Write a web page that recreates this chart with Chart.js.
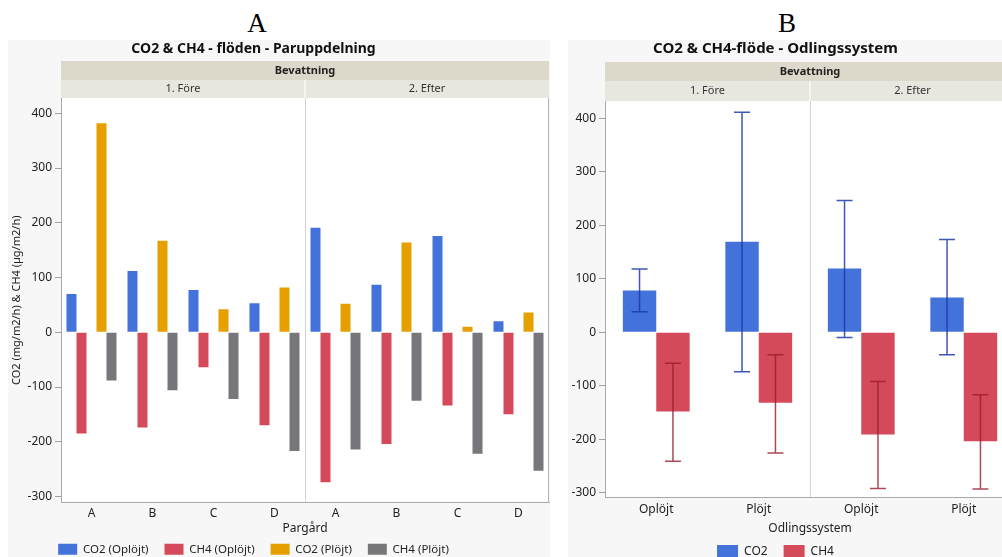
<!DOCTYPE html>
<html>
<head>
<meta charset="utf-8">
<script src="https://cdn.jsdelivr.net/npm/chart.js@4/dist/chart.umd.min.js"></script>
<style>
html, body { margin: 0; padding: 0; background: #fff; }
body { width: 1002px; height: 557px; position: relative; overflow: hidden; }
.panel { position: absolute; background: #f7f7f7; }
.letter { position: absolute; width: 40px; text-align: center; font-family: "Liberation Serif", serif; font-size: 27px; line-height: 27px; color: #000; }
canvas { position: absolute; }
</style>
</head>
<body>
<div class="panel" style="left:8px;top:40px;width:542px;height:517px"></div>
<div class="panel" style="left:568px;top:40px;width:434px;height:517px"></div>
<div class="letter" style="left:237px;top:10px">A</div>
<div class="letter" style="left:767px;top:10px">B</div>
<canvas id="chartA" width="592" height="525" style="left:-42px;top:40px"></canvas>
<canvas id="chartB" width="480" height="528" style="left:536px;top:40px"></canvas>
<script>
// --- data ---
const bevattning = ['1. Före', '2. Efter'];
const pargard = ['A', 'B', 'C', 'D'];
const system = ['Oplöjt', 'Plöjt'];

// A: Före A-D, then Efter A-D
const co2Oplojt = [70, 112, 77, 53, 191, 87, 176, 20];
const ch4Oplojt = [-185, -174, -64, -170, -274, -204, -134, -150];
const co2Plojt = [382, 167, 42, 82, 52, 164, 10, 36];
const ch4Plojt = [-88, -106, -122, -217, -214, -125, -222, -253];

// B: Före Oplöjt/Plöjt, then Efter Oplöjt/Plöjt
const co2Mean = [78, 169, 119, 65];
const co2Low = [38, -74, -10, -42];
const co2High = [118, 411, 246, 173];
const ch4Mean = [-148, -132, -191, -204];
const ch4Low = [-241, -226, -292, -293];
const ch4High = [-58, -42, -92, -117];

const BLUE = '#4472db';
const RED = '#d54a5b';
const ORANGE = '#e5a000';
const GRAY = '#77777b';

Chart.defaults.font.family = '"Noto Sans", sans-serif';
Chart.defaults.color = '#222';

// white plot area, facet header bands, frame
const facetPlugin = {
  id: 'facets',
  beforeDraw(chart, args, opts) {
    const ctx = chart.ctx;
    const a = chart.chartArea;
    const n = opts.groups.length;
    const w = a.width / n;
    ctx.save();
    ctx.fillStyle = '#fff';
    ctx.fillRect(a.left, a.top, a.width, a.height);

    ctx.fillStyle = '#dcd9ca';
    ctx.fillRect(a.left, a.top - opts.h1 - opts.h2, a.width, opts.h1);
    ctx.fillStyle = '#e8e7df';
    ctx.fillRect(a.left, a.top - opts.h2, a.width, opts.h2);
    ctx.fillStyle = '#f5f4ef';
    for (let i = 1; i < n; i++) {
      ctx.fillRect(a.left + w * i - 1, a.top - opts.h2, 2, opts.h2);
    }

    ctx.textAlign = 'center';
    ctx.textBaseline = 'middle';
    ctx.fillStyle = '#222';
    ctx.font = 'bold 11px "Noto Sans"';
    ctx.fillText(opts.title, (a.left + a.right) / 2, a.top - opts.h2 - opts.h1 / 2);
    ctx.fillStyle = '#333';
    ctx.font = '11px "Noto Sans"';
    opts.groups.forEach((g, i) => {
      ctx.fillText(g, a.left + w * (i + 0.5), a.top - opts.h2 / 2);
    });
    ctx.restore();
  },
  afterDraw(chart) {
    const ctx = chart.ctx;
    const a = chart.chartArea;
    ctx.save();
    ctx.strokeStyle = '#b4b4b4';
    ctx.lineWidth = 1;
    ctx.beginPath();
    ctx.moveTo(a.right - 0.5, a.top);
    ctx.lineTo(a.right - 0.5, a.bottom);
    ctx.stroke();
    ctx.restore();
  }
};

// error bars for panel B
const errorBars = {
  id: 'errorBars',
  afterDatasetsDraw(chart) {
    const ctx = chart.ctx;
    const y = chart.scales.y;
    chart.data.datasets.forEach((ds, di) => {
      if (!ds.errLow) return;
      const meta = chart.getDatasetMeta(di);
      ctx.save();
      ctx.strokeStyle = ds.errColor;
      ctx.lineWidth = 1.5;
      meta.data.forEach((bar, i) => {
        const lo = y.getPixelForValue(ds.errLow[i]);
        const hi = y.getPixelForValue(ds.errHigh[i]);
        ctx.beginPath();
        ctx.moveTo(bar.x, lo);
        ctx.lineTo(bar.x, hi);
        ctx.moveTo(bar.x - 8, lo);
        ctx.lineTo(bar.x + 8, lo);
        ctx.moveTo(bar.x - 8, hi);
        ctx.lineTo(bar.x + 8, hi);
        ctx.stroke();
      });
      ctx.restore();
    });
  }
};

const tickFont = { size: 12 };

// ---------- A ----------
const labelsA = bevattning.flatMap(() => pargard);

new Chart(document.getElementById('chartA'), {
  type: 'bar',
  data: {
    labels: labelsA,
    datasets: [
      { label: 'CO2 (Oplöjt)', data: co2Oplojt, backgroundColor: BLUE },
      { label: 'CH4 (Oplöjt)', data: ch4Oplojt, backgroundColor: RED },
      { label: '', data: labelsA.map(() => null) }, // empty slot = gap between pairs
      { label: 'CO2 (Plöjt)', data: co2Plojt, backgroundColor: ORANGE },
      { label: 'CH4 (Plöjt)', data: ch4Plojt, backgroundColor: GRAY }
    ]
  },
  options: {
    responsive: false,
    animation: false,
    layout: { padding: { left: 0, right: 1, top: 0, bottom: 0 } },
    datasets: { bar: { categoryPercentage: 0.82, barPercentage: 1 } },
    plugins: {
      title: {
        display: true,
        text: 'CO2 & CH4 - flöden - Paruppdelning',
        color: '#111',
        font: { size: 14, weight: 'bold' },
        padding: { top: 1, bottom: 40.2 }
      },
      legend: {
        position: 'bottom',
        labels: {
          filter: item => item.text !== '',
          boxWidth: 19,
          boxHeight: 11,
          padding: 16,
          font: { size: 11.5 },
          color: '#222'
        }
      },
      tooltip: { enabled: false },
      facets: { title: 'Bevattning', groups: bevattning, h1: 19, h2: 18 }
    },
    scales: {
      x: {
        grid: { color: c => c.index === 4 ? '#d4d4d4' : 'rgba(0,0,0,0)', drawTicks: false },
        border: { color: '#a8a8a8' },
        ticks: { padding: 4, font: tickFont, color: '#222' },
        title: { display: true, text: 'Pargård', font: tickFont, color: '#222', padding: { top: 0, bottom: -8 } },
        afterFit: s => { s.height = 25; }
      },
      y: {
        min: -311,
        max: 428,
        ticks: { stepSize: 100, includeBounds: false, padding: 3, font: tickFont, color: '#222' },
        grid: { drawOnChartArea: false, tickLength: 6, color: '#a0a0a0' },
        border: { color: '#a8a8a8' },
        title: { display: true, text: 'CO2 (mg/m2/h) & CH4 (µg/m2/h)', font: { size: 11 }, color: '#222', padding: { top: 52, bottom: 0 } },
        afterFit: s => { s.width = 103; }
      }
    }
  },
  plugins: [facetPlugin]
});

// ---------- B ----------
const labelsB = bevattning.flatMap(() => system);

new Chart(document.getElementById('chartB'), {
  type: 'bar',
  data: {
    labels: labelsB,
    datasets: [
      { label: 'CO2', data: co2Mean, backgroundColor: BLUE, errLow: co2Low, errHigh: co2High, errColor: 'rgba(28,58,170,0.85)' },
      { label: 'CH4', data: ch4Mean, backgroundColor: RED, errLow: ch4Low, errHigh: ch4High, errColor: 'rgba(150,28,45,0.8)' }
    ]
  },
  options: {
    responsive: false,
    animation: false,
    layout: { padding: { left: 0, right: 1, top: 0, bottom: 0 } },
    datasets: { bar: { categoryPercentage: 0.652, barPercentage: 1 } },
    plugins: {
      title: {
        display: true,
        text: 'CO2 & CH4-flöde - Odlingssystem',
        color: '#111',
        font: { size: 15, weight: 'bold' },
        padding: { top: 0, bottom: 43 }
      },
      legend: {
        position: 'bottom',
        labels: { boxWidth: 21, boxHeight: 13, padding: 16, font: tickFont, color: '#222' }
      },
      tooltip: { enabled: false },
      facets: { title: 'Bevattning', groups: bevattning, h1: 19, h2: 20 }
    },
    scales: {
      x: {
        grid: { color: c => c.index === 2 ? '#d4d4d4' : 'rgba(0,0,0,0)', drawTicks: false },
        border: { color: '#a8a8a8' },
        ticks: { padding: 5, font: tickFont, color: '#222' },
        title: { display: true, text: 'Odlingssystem', font: tickFont, color: '#222', padding: { top: 0, bottom: -7 } },
        afterFit: s => { s.height = 32; }
      },
      y: {
        min: -308,
        max: 432,
        ticks: { stepSize: 100, includeBounds: false, padding: 3, font: tickFont, color: '#222' },
        grid: { drawOnChartArea: false, tickLength: 6, color: '#a0a0a0' },
        border: { color: '#a8a8a8' },
        afterFit: s => { s.width = 69; }
      }
    }
  },
  plugins: [facetPlugin, errorBars]
});
</script>
</body>
</html>
